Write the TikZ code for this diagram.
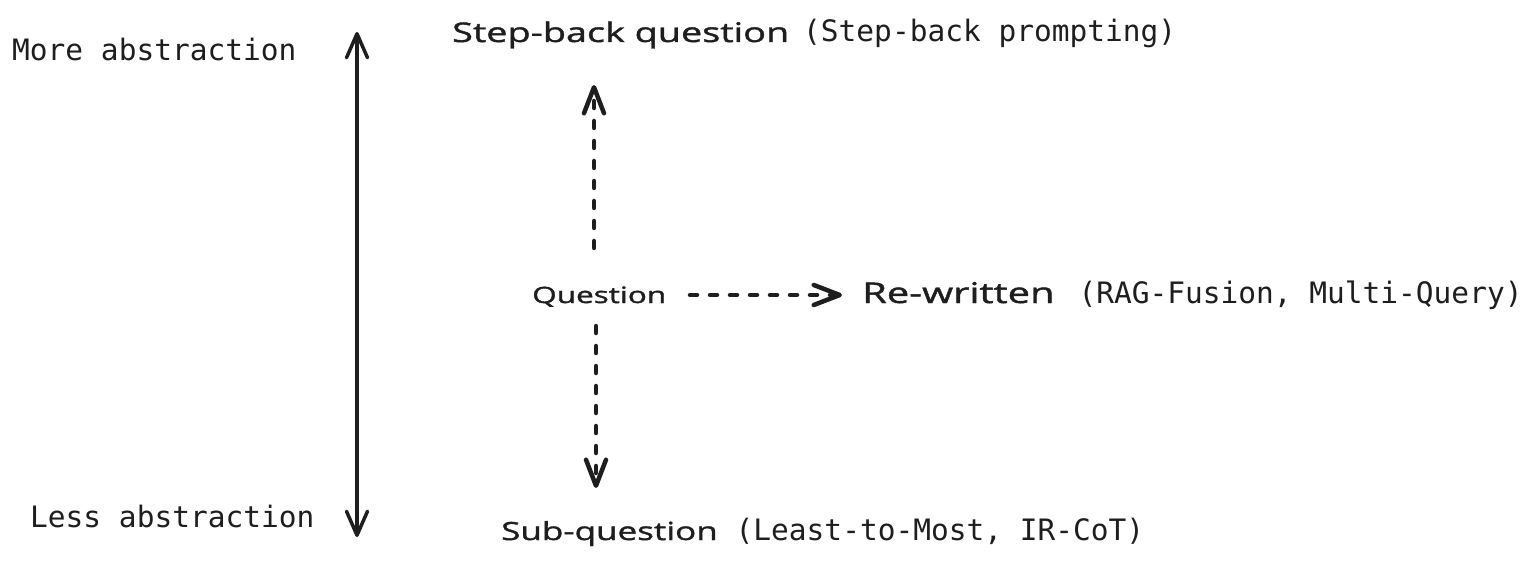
\documentclass[tikz,border=0pt]{standalone}
\usepackage{fontspec}
\newfontfamily\handfont[FakeStretch=1.4,FakeBold=1.5]{Open Sans}
\newfontfamily\codefont{DejaVu Sans Mono}
\usetikzlibrary{arrows.meta}

\definecolor{ink}{HTML}{1E1E1E}

\newcommand{\hand}[2][27]{{\handfont\fontsize{#1}{32}\selectfont #2}}
\newcommand{\code}[1]{{\codefont\fontsize{29.5}{35}\selectfont #1}}

\tikzset{
  lbl/.style={inner sep=0pt, anchor=base west, text=ink},
  axisarrow/.style={draw=ink, line width=3.5pt,
    {Straight Barb[length=24pt,width=21pt,round]}-{Straight Barb[length=24pt,width=21pt,round]}},
  dasharrow/.style={draw=ink, line width=4.5pt, line cap=round,
    dash pattern=on 7pt off 13pt, -{Straight Barb[length=26pt,width=20pt,round]}},
}

\begin{document}
\begin{tikzpicture}[x=1pt,y=-1pt]
\useasboundingbox[fill=white] (0,0) rectangle (1529,564);

% abstraction axis
\node[lbl] (more) at (12,61) {\code{More abstraction}};
\node[lbl] (less) at (30,527) {\code{Less abstraction}};
\coordinate (axtop) at (357,32);
\coordinate (axbot) at (357,537);
\draw[axisarrow] (axbot) -- (axtop);

% query kinds
\node[lbl] (stepback) at (452,42) {\hand{Step-back question}\hspace{14pt}\code{(Step-back prompting)}};
\node[lbl] (question) at (532,303) {\hand[22.5]{Question}};
\node[lbl] (rewritten) at (862,303) {\hand[28.5]{Re-written}\hspace{24pt}\code{(RAG-Fusion, Multi-Query)}};
\node[lbl] (subq) at (501,540) {\hand[25]{Sub-question}\hspace{18pt}\code{(Least-to-Most, IR-CoT)}};

% transformations
\coordinate (upstart) at (594,248);
\coordinate (upend) at (594,85);
\coordinate (rtstart) at (690,295);
\coordinate (rtend) at (842,295);
\coordinate (dnstart) at (596,326);
\coordinate (dnend) at (596,488);
\draw[dasharrow] (upstart) -- (upend);
\draw[dasharrow] (rtstart) -- (rtend);
\draw[dasharrow] (dnstart) -- (dnend);
\end{tikzpicture}
\end{document}
